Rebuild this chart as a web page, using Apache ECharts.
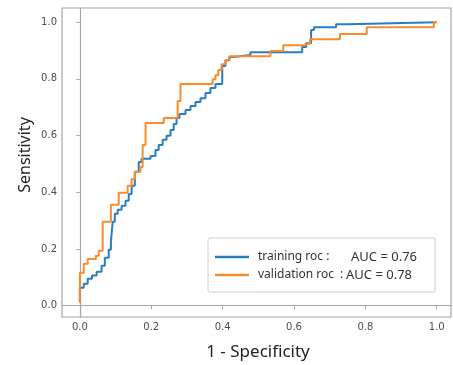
<!DOCTYPE html>
<html>
<head>
<meta charset="utf-8">
<script src="https://cdn.jsdelivr.net/npm/echarts@6/dist/echarts.min.js"></script>
<style>html,body{margin:0;padding:0;background:#fff}#c{width:453px;height:365px}</style>
</head>
<body>
<div id="c"></div>
<script>
const seriesNames = ['training roc', 'validation roc'];
const aucValues = [0.76, 0.78];
const tickValues = [0, 0.2, 0.4, 0.6, 0.8, 1.0];

const trainFpr = [0.000,0.000,0.011,0.011,0.022,0.022,0.034,0.034,0.047,0.047,0.061,0.061,0.070,0.070,0.081,0.081,0.087,0.087,0.092,0.092,0.098,0.098,0.106,0.106,0.117,0.117,0.128,0.128,0.137,0.137,0.145,0.145,0.154,0.154,0.165,0.165,0.173,0.173,0.198,0.198,0.212,0.212,0.221,0.221,0.232,0.232,0.243,0.243,0.254,0.254,0.263,0.263,0.271,0.271,0.279,0.279,0.296,0.296,0.310,0.310,0.324,0.324,0.338,0.338,0.352,0.352,0.366,0.366,0.380,0.380,0.399,0.399,0.408,0.408,0.419,0.419,0.430,0.430,0.478,0.478,0.623,0.623,0.634,0.634,0.648,0.648,0.656,0.656,0.718,0.718,0.751,0.751,1.000];
const trainTpr = [0.011,0.063,0.063,0.077,0.077,0.095,0.095,0.106,0.106,0.120,0.120,0.141,0.141,0.169,0.169,0.197,0.197,0.225,0.225,0.296,0.296,0.324,0.324,0.338,0.338,0.352,0.352,0.370,0.370,0.394,0.394,0.423,0.423,0.472,0.472,0.507,0.507,0.518,0.518,0.528,0.528,0.549,0.549,0.567,0.567,0.585,0.585,0.599,0.599,0.620,0.620,0.641,0.641,0.662,0.662,0.676,0.676,0.690,0.690,0.704,0.704,0.718,0.718,0.732,0.732,0.750,0.750,0.768,0.768,0.782,0.782,0.845,0.845,0.866,0.866,0.877,0.877,0.884,0.884,0.894,0.894,0.912,0.912,0.926,0.926,0.972,0.972,0.982,0.982,0.993,0.993,1.000,1.000];

const valFpr = [0.000,0.000,0.011,0.011,0.022,0.022,0.045,0.045,0.053,0.053,0.064,0.064,0.087,0.087,0.109,0.109,0.134,0.134,0.145,0.145,0.154,0.154,0.170,0.170,0.176,0.176,0.184,0.184,0.235,0.235,0.274,0.274,0.282,0.282,0.372,0.372,0.380,0.380,0.388,0.388,0.397,0.397,0.408,0.408,0.419,0.419,0.534,0.534,0.570,0.570,0.631,0.631,0.645,0.645,0.729,0.729,0.804,0.804,0.992,0.992,1.000];
const valTpr = [0.011,0.116,0.116,0.148,0.148,0.165,0.165,0.176,0.176,0.194,0.194,0.296,0.296,0.356,0.356,0.398,0.398,0.423,0.423,0.447,0.447,0.472,0.472,0.489,0.489,0.567,0.567,0.644,0.644,0.662,0.662,0.722,0.722,0.782,0.782,0.799,0.799,0.813,0.813,0.831,0.831,0.852,0.852,0.866,0.866,0.880,0.880,0.898,0.898,0.919,0.919,0.926,0.926,0.940,0.940,0.958,0.958,0.982,0.982,1.000,1.000];

const colors = ['#2a7dbf', '#fb8c2a'];
const zip = (a, b) => a.map((v, i) => [v, b[i]]);

const chart = echarts.init(document.getElementById('c'), null, {renderer: 'canvas'});
const axisGray = '#a6a6a6';
const labelStyle = {color: '#4d4d4d', fontFamily: 'DejaVu Sans', fontSize: 10};
const txt = '#333';

chart.setOption({
  animation: false,
  backgroundColor: '#fff',
  grid: {left: 62, right: 2, top: 8, bottom: 48, show: true, borderColor: axisGray, borderWidth: 1.2},
  xAxis: {
    type: 'value', min: -0.05, max: 1.04,
    splitLine: {show: false},
    axisLine: {show: true, lineStyle: {color: axisGray, width: 1.2}},
    axisTick: {show: true, customValues: tickValues, length: 3.5, lineStyle: {color: axisGray}},
    axisLabel: {customValues: tickValues, formatter: v => v.toFixed(1), margin: 5, ...labelStyle}
  },
  yAxis: {
    type: 'value', min: -0.04, max: 1.05,
    splitLine: {show: false},
    axisLine: {show: true, lineStyle: {color: axisGray, width: 1.2}},
    axisTick: {show: true, customValues: tickValues, length: 3.5, lineStyle: {color: axisGray}},
    axisLabel: {customValues: tickValues, formatter: v => v.toFixed(1), margin: 5, ...labelStyle}
  },
  legend: {
    orient: 'vertical', left: 208, top: 238,
    backgroundColor: '#fff',
    borderColor: '#cfcfcf', borderWidth: 1, borderRadius: 2,
    padding: [12, 18, 10, 7],
    icon: 'rect',
    itemWidth: 34, itemHeight: 2.5, itemGap: 4,
    data: seriesNames,
    formatter: name => {
      const i = seriesNames.indexOf(name);
      if (i === 0) return '{p|}{t|' + name + ' :}{a|AUC = ' + aucValues[i].toFixed(2) + '}';
      return '{p|}{v|' + name + '}{s|:}{a|AUC = ' + aucValues[i].toFixed(2) + '}';
    },
    textStyle: {
      color: txt, fontFamily: 'Noto Sans', fontSize: 12, lineHeight: 14,
      rich: {
        p: {width: 4},
        t: {width: 93, fontFamily: 'Noto Sans', fontSize: 12, color: txt, lineHeight: 14},
        v: {width: 82, fontFamily: 'Noto Sans', fontSize: 12, color: txt, lineHeight: 14},
        s: {width: 6, fontFamily: 'Noto Sans', fontSize: 12, color: txt, lineHeight: 14},
        a: {fontFamily: 'Noto Sans', fontSize: 13, color: txt, lineHeight: 14}
      }
    }
  },
  graphic: [
    {type: 'text', x: 258, y: 352, style: {text: '1 - Specificity', font: '17px "Noto Sans"', fill: '#222', textAlign: 'center', textVerticalAlign: 'middle'}},
    {type: 'text', rotation: Math.PI / 2, x: 25, y: 155, style: {text: 'Sensitivity', font: '16px "Noto Sans"', fill: '#222', textAlign: 'center', textVerticalAlign: 'middle'}}
  ],
  series: [
    {name: seriesNames[0], type: 'line', data: zip(trainFpr, trainTpr), symbol: 'none', lineStyle: {width: 2, color: colors[0]}, itemStyle: {color: colors[0]}},
    {name: seriesNames[1], type: 'line', data: zip(valFpr, valTpr), symbol: 'none', lineStyle: {width: 2, color: colors[1]}, itemStyle: {color: colors[1]}}
  ]
});
</script>
</body>
</html>
